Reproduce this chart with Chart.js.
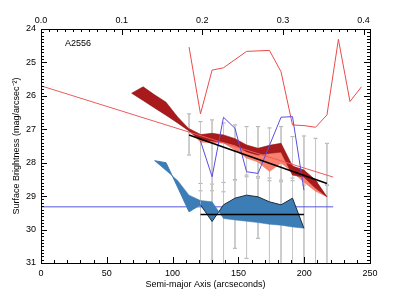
<!DOCTYPE html>
<html>
<head>
<meta charset="utf-8">
<script src="https://cdn.jsdelivr.net/npm/chart.js@4.4.1/dist/chart.umd.min.js"></script>
<style>
  html, body { margin: 0; padding: 0; background: #fff; }
  canvas { display: block; }
</style>
</head>
<body>
<canvas id="profile" width="393" height="304"></canvas>
<script>
// isophote radii (arcsec) shared by the profiles
const radii = [68.9, 77.6, 86.3, 95.0, 103.8, 112.5, 121.2, 130.0, 138.7, 147.4, 156.2,
               164.9, 173.6, 182.4, 191.1, 199.8, 208.6, 217.3, 226.0, 234.8, 243.5];

// dark red envelope, radii[0..17]
const darkRedTop = [25.92, 25.73, 25.97, 26.19, 26.63, 26.99, 27.16, 27.12, 27.17, 27.28,
                    27.47, 27.57, 27.48, 27.42, 28.10, 28.22, 28.52, 29.02];
const darkRedBot = [25.92, 26.14, 26.36, 26.58, 26.81, 27.05, 27.32, 27.35, 27.38, 27.47,
                    27.67, 27.77, 27.72, 27.68, 28.37, 28.43, 28.76, 29.02];
// light red envelope, radii[5..17]
const lightRedTop = [26.96, 27.14, 27.20, 27.23, 27.32, 27.50, 27.62, 27.62, 27.62, 28.10, 28.28, 28.58, 29.02];
const lightRedBot = [27.05, 27.38, 27.41, 27.41, 27.62, 27.86, 27.98, 28.26, 28.01, 28.28, 28.58, 28.85, 29.02];
// blue envelope, radii[2..15]
const blueTop = [27.94, 28.23, 28.53, 28.97, 29.13, 29.17, 29.67, 29.71, 29.75, 29.79, 29.84, 29.87, 29.92, 29.96];
const blueBot = [27.94, 28.00, 28.73, 29.47, 29.26, 29.76, 29.26, 29.06, 28.97, 29.02, 29.17, 29.26, 29.06, 29.96];

// thin profiles (null = no vertex there)
const redProfile = [24.54, 26.54, 25.23, 25.16, null, 24.67, null, 24.64, 25.28, 26.87,
                    26.89, 26.94, 26.57, 24.31, 26.17, 25.73];          // radii[5..20]
const blueProfile = [27.35, 28.42, 26.64, 26.97, 28.27, 28.32, null, 26.64, 26.62, 28.82]; // radii[6..15]

// error bars
const errAX = radii.slice(5, 18);
const errATop = [26.54, 26.77, 26.72, 26.81, 26.87, 26.92, 26.92, 26.96, 26.92, 27.22, 27.20, 27.27, 27.42];
const errABot = [27.77, 28.84, 28.84, 28.87, 28.52, 28.42, 28.42, 28.54, 28.57, 28.54, 28.67, 28.57, 28.67];
const errBX = radii.slice(6, 18);
const errBTop = [28.62, 28.64, 28.59, 28.50, 28.37, 28.46, 28.46, 28.52, 28.46, 28.52, 28.58, 28.67];
const errBBot = [31.3, 31.3, 31.3, 30.56, 30.86, 30.26, 31.3, 31.3, 31.3, 31.3, 31.3, 31.3];

// straight fits
const redFitX = [0, 222], redFitY = [25.70, 28.43];
const blueSkyX = [0, 222], blueSkyY = [29.32, 29.32];
const redBlackX = [112.5, 217.3], redBlackY = [27.17, 28.62];
const blueBlackX = [121.2, 199.8], blueBlackY = [29.55, 29.55];

const clusterName = 'A2556';
const labelX = 18.2, labelY = 24.52;

const xTicks = [0, 50, 100, 150, 200, 250];
const topTicks = [0.0, 0.1, 0.2, 0.3, 0.4];
const yTicks = [24, 25, 26, 27, 28, 29, 30, 31];

function pts(xs, ys) { return ys.map((y, i) => ({ x: xs[i], y: y })); }

function barPts(xs, lo, hi) {
  const out = [];
  xs.forEach((x, i) => { out.push({ x: x, y: lo[i] }, { x: x, y: hi[i] }, { x: x, y: null }); });
  return out;
}

function capPts() {
  const out = [];
  errAX.forEach((x, i) => { out.push({ x: x, y: errATop[i] }, { x: x, y: errABot[i] }); });
  errBX.forEach((x, i) => {
    out.push({ x: x, y: errBTop[i] });
    if (errBBot[i] < 31) out.push({ x: x, y: errBBot[i] });
  });
  return out;
}

const line = (data, color, width, extra) => Object.assign({
  data: data, borderColor: color, borderWidth: width, pointRadius: 0,
  fill: false, tension: 0, spanGaps: true
}, extra || {});

// inward IDL-style ticks, frame and label
const frameTicks = {
  id: 'frameTicks',
  afterDatasetsDraw(chart) {
    const { ctx, chartArea: a, scales } = chart;
    ctx.save();
    ctx.strokeStyle = '#000';
    ctx.lineWidth = 1;
    ctx.beginPath();
    for (let v = 0; v <= 250; v += 10) {
      const px = Math.round(scales.x.getPixelForValue(v)) + 0.5;
      const len = v % 50 === 0 ? 6 : 3;
      ctx.moveTo(px, a.bottom); ctx.lineTo(px, a.bottom - len);
    }
    for (let i = 0; i <= 40; i++) {
      const px = Math.round(scales.x2.getPixelForValue(i / 100)) + 0.5;
      const len = i % 10 === 0 ? 6 : 3;
      ctx.moveTo(px, a.top); ctx.lineTo(px, a.top + len);
    }
    for (let i = 0; i <= 70; i++) {
      const py = Math.round(scales.y.getPixelForValue(24 + i / 10)) + 0.5;
      const len = i % 10 === 0 ? 6 : 3;
      ctx.moveTo(a.left, py); ctx.lineTo(a.left + len, py);
      ctx.moveTo(a.right, py); ctx.lineTo(a.right - len, py);
    }
    ctx.stroke();
    ctx.strokeRect(Math.round(a.left) + 0.5, Math.round(a.top) + 0.5,
                   Math.round(a.right - a.left), Math.round(a.bottom - a.top));
    ctx.fillStyle = '#000';
    ctx.font = '9px "Liberation Sans", Arial, sans-serif';
    ctx.fillText(clusterName, scales.x.getPixelForValue(labelX), scales.y.getPixelForValue(labelY));
    ctx.restore();
  }
};

Chart.defaults.font.family = '"Liberation Sans", Arial, sans-serif';
Chart.defaults.font.size = 9;
Chart.defaults.color = '#000';

const hidden = { display: false, drawTicks: false };

new Chart(document.getElementById('profile'), {
  type: 'line',
  data: {
    datasets: [
      line(pts(redBlackX, redBlackY), '#000', 1.5, { order: 0 }),
      line(pts(blueBlackX, blueBlackY), '#000', 1.5, { order: 0 }),
      line(pts(radii.slice(6, 16), blueProfile), '#5a4ee0', 1, { order: 1 }),
      line(pts(radii.slice(5, 21), redProfile), '#ec4a4a', 1, { order: 1 }),
      line(pts(redFitX, redFitY), '#ee5a5a', 1, { order: 2 }),
      line(pts(radii.slice(0, 18), darkRedTop), '#8e1010', 0.6, { order: 3 }),
      line(pts(radii.slice(0, 18), darkRedBot), '#8e1010', 0.6, { order: 3, fill: '-1', backgroundColor: '#a81a1c' }),
      line(pts(radii.slice(5, 18), lightRedTop), 'rgba(0,0,0,0)', 0, { order: 4 }),
      line(pts(radii.slice(5, 18), lightRedBot), '#f57a68', 0.6, { order: 4, fill: '-1', backgroundColor: '#f7806f' }),
      line(pts(radii.slice(2, 16), blueTop), '#3b7cb5', 0.5, { order: 5 }),
      line(pts(radii.slice(2, 16), blueBot), '#3b7cb5', 1, {
        order: 5, fill: '-1', backgroundColor: '#3d7db5',
        segment: { borderColor: c => c.p0DataIndex >= 4 ? '#1c2c3c' : '#3b7cb5' }
      }),
      line(pts(blueSkyX, blueSkyY), '#5555e0', 1, { order: 6 }),
      line(barPts(errAX, errATop, errABot), '#c6c6c6', 1, { order: 7, spanGaps: false }),
      line(barPts(errBX, errBTop, errBBot), '#c6c6c6', 1, { order: 7, spanGaps: false }),
      { data: capPts(), showLine: false, pointStyle: 'line', pointRadius: 2,
        pointBorderColor: '#a8a8a8', pointBorderWidth: 1, borderColor: '#a8a8a8', order: 7 }
    ]
  },
  options: {
    responsive: false,
    animation: false,
    devicePixelRatio: 1,
    layout: { padding: { left: 0, right: 23, top: 0, bottom: 0 } },
    plugins: { legend: { display: false }, tooltip: { enabled: false } },
    scales: {
      x: {
        type: 'linear', position: 'bottom', min: 0, max: 250,
        afterBuildTicks: s => { s.ticks = xTicks.map(v => ({ value: v })); },
        ticks: { padding: 5, maxRotation: 0 },
        grid: hidden, border: { display: false },
        title: { display: true, text: 'Semi-major Axis (arcseconds)', padding: { top: 0, bottom: 14 } },
        afterFit: s => { s.height = 41; }
      },
      x2: {
        type: 'linear', position: 'top', min: 0, max: 0.408,
        afterBuildTicks: s => { s.ticks = topTicks.map(v => ({ value: v })); },
        ticks: { padding: 3, maxRotation: 0, callback: v => v.toFixed(1) },
        grid: hidden, border: { display: false },
        afterFit: s => { s.height = 29; }
      },
      y: {
        type: 'linear', position: 'left', min: 24, max: 31, reverse: true,
        afterBuildTicks: s => { s.ticks = yTicks.map(v => ({ value: v })); },
        ticks: { padding: 5 },
        grid: hidden, border: { display: false },
        title: { display: true, text: 'Surface Brightness (mag/arcsec\u207B\u00B2)', padding: { top: 11, bottom: 0 } },
        afterFit: s => { s.width = 41; }
      }
    }
  },
  plugins: [frameTicks]
});
</script>
</body>
</html>
